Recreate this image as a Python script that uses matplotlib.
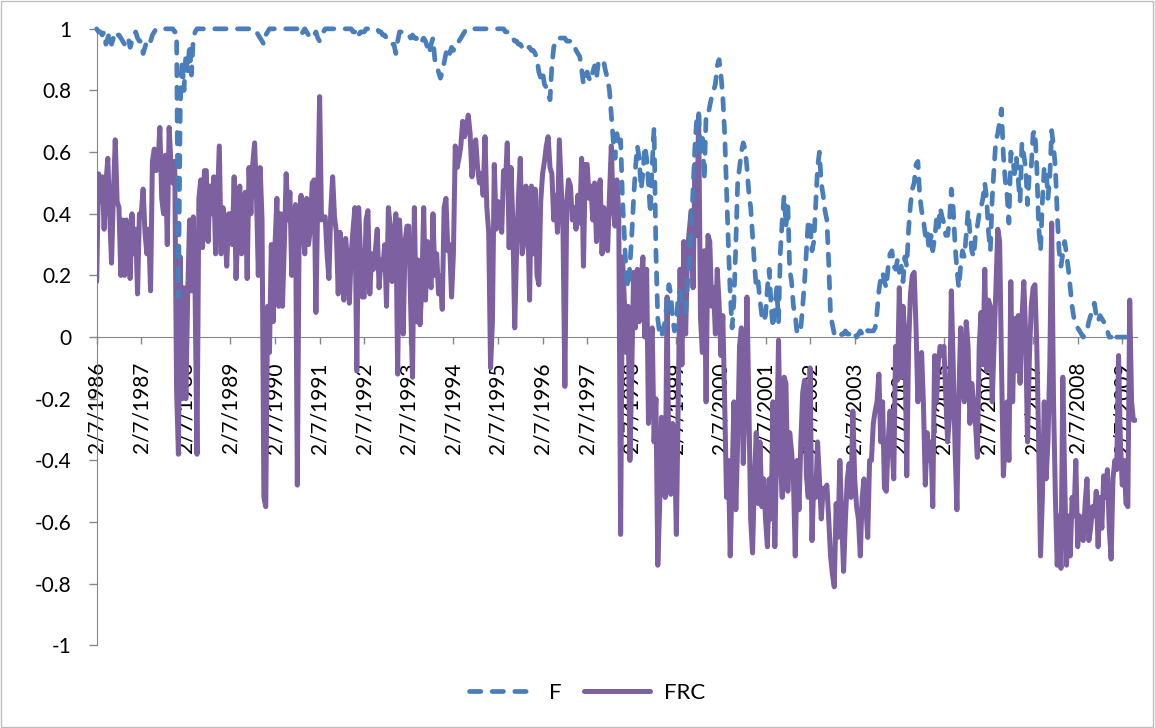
import matplotlib
matplotlib.use('Agg')
from matplotlib import pyplot as plt
from matplotlib.patches import Rectangle
import numpy as np

plt.rcParams['font.family'] = ['Lato', 'DejaVu Sans']

start_year = 1986
nan = float('nan')

# F: two readings per month, from Feb 1986
f_values = [
    # 1986
    1.00, 0.99, 0.99, 0.98, 0.99, 0.95, 0.97, 0.99, 0.95, 0.97, 0.99, 0.98,
    0.98, 0.97, 0.96, 0.95, 0.97, 0.97, 0.94, 0.96, 0.98, 0.99, 0.97, 0.96,
    # 1987
    0.96, 0.92, 0.94, 0.96, 0.97, 0.96, 0.98, 0.99, 1.00, 1.00, 1.00, 1.00,
    1.00, 1.00, 1.00, 1.00, 1.00, 1.00, 0.99, 0.99, 0.13, 0.75, 0.90, 0.80,
    # 1988
    0.92, 0.86, 0.95, 0.85, 0.97, 0.99, 1.00, 1.00, 1.00, 1.00, 1.00, 1.00,
    1.00, 1.00, 1.00, 1.00, 1.00, 1.00, 1.00, 1.00, 1.00, 1.00, 1.00, 1.00,
    # 1989
    1.00, 1.00, 1.00, 1.00, 1.00, 1.00, 1.00, 1.00, 1.00, 1.00, 1.00, 1.00,
    1.00, 1.00, 0.99, 0.98, 0.97, 0.96, 0.95, 0.98, 0.99, 1.00, 1.00, 1.00,
    # 1990
    1.00, 1.00, 1.00, 1.00, 1.00, 1.00, 1.00, 1.00, 1.00, 1.00, 1.00, 1.00,
    1.00, 1.00, 0.98, 0.99, 1.00, 0.99, 0.98, 0.99, 0.99, 0.98, 0.99, 0.97,
    # 1991
    0.96, 0.98, 0.99, 1.00, 1.00, 1.00, 1.00, 1.00, 1.00, 1.00, 1.00, 1.00,
    1.00, 1.00, 1.00, 1.00, 1.00, 1.00, 0.99, 0.99, 0.97, 0.98, 0.99, 0.99,
    # 1992
    0.99, 1.00, 1.00, 1.00, 1.00, 1.00, 1.00, 1.00, 0.99, 0.99, 0.98, 0.98,
    0.97, 0.96, 0.96, 0.95, 0.95, 0.92, 0.96, 0.99, 0.99, 0.99, 0.98, 0.98,
    # 1993
    0.98, 0.97, 0.98, 0.97, 0.97, 0.96, 0.95, 0.96, 0.97, 0.96, 0.94, 0.92,
    0.95, 0.97, 0.90, 0.88, 0.86, 0.84, 0.86, 0.89, 0.92, 0.94, 0.92, 0.94,
    # 1994
    0.93, 0.94, 0.96, 0.96, 0.97, 0.98, 0.99, 1.00, 1.00, 1.00, 1.00, 1.00,
    1.00, 1.00, 1.00, 1.00, 1.00, 1.00, 1.00, 1.00, 1.00, 1.00, 1.00, 1.00,
    # 1995
    1.00, 1.00, 1.00, 1.00, 0.99, 0.99, 0.99, 0.98, 0.97, 0.96, 0.96, 0.95,
    0.95, 0.94, 0.94, 0.93, 0.94, 0.94, 0.93, 0.93, 0.92, 0.90, 0.86, 0.84,
    # 1996
    0.86, 0.82, 0.81, 0.80, 0.77, 0.88, 0.94, 0.96, 0.97, 0.97, 0.97, 0.97,
    0.97, 0.96, 0.96, 0.96, 0.95, 0.95, 0.93, 0.92, 0.91, 0.87, 0.82, 0.85,
    # 1997
    0.86, 0.84, 0.83, 0.86, 0.88, 0.84, 0.89, 0.90, 0.90, 0.89, 0.86, 0.84,
    0.80, 0.72, 0.64, 0.58, 0.66, 0.62, 0.64, 0.45, 0.33, 0.20, 0.16, 0.23,
    # 1998
    0.33, 0.45, 0.55, 0.62, 0.58, 0.48, 0.53, 0.62, 0.58, 0.50, 0.40, 0.56,
    0.68, 0.28, 0.06, 0.01, 0.00, 0.03, 0.05, 0.12, 0.17, 0.14, 0.06, 0.02,
    # 1999
    0.04, 0.14, 0.15, 0.11, 0.10, 0.08, 0.17, 0.25, 0.35, 0.48, 0.62, 0.71,
    0.73, 0.59, 0.66, 0.51, 0.72, 0.72, 0.75, 0.78, 0.80, 0.82, 0.88, 0.90,
    # 2000
    0.85, 0.78, 0.66, 0.48, 0.30, 0.14, 0.03, 0.12, 0.30, 0.50, 0.55, 0.60,
    0.63, 0.61, 0.55, 0.47, 0.42, 0.33, 0.24, 0.16, 0.18, 0.12, 0.07, 0.05,
    # 2001
    0.07, 0.16, 0.22, 0.10, 0.03, 0.10, 0.16, 0.05, 0.28, 0.38, 0.46, 0.36,
    0.43, 0.22, 0.18, 0.10, 0.07, 0.01, 0.02, 0.03, 0.10, 0.18, 0.28, 0.38,
    # 2002
    0.37, 0.28, 0.31, 0.43, 0.55, 0.60, 0.50, 0.46, 0.41, 0.38, 0.24, 0.07,
    0.04, 0.01, 0.01, 0.00, 0.00, 0.01, 0.01, 0.02, 0.01, 0.01, 0.02, 0.01,
    # 2003
    0.01, 0.00, 0.01, 0.02, 0.01, 0.02, 0.03, 0.02, 0.02, 0.02, 0.02, 0.03,
    0.08, 0.15, 0.19, 0.21, 0.18, 0.16, 0.23, 0.27, 0.28, 0.23, 0.22, 0.25,
    # 2004
    0.21, 0.23, 0.18, 0.26, 0.23, 0.35, 0.43, 0.48, 0.50, 0.56, 0.57, 0.46,
    0.41, 0.38, 0.33, 0.35, 0.28, 0.33, 0.28, 0.32, 0.38, 0.35, 0.42, 0.39,
    # 2005
    0.37, 0.33, 0.33, 0.38, 0.48, 0.42, 0.30, 0.22, 0.16, 0.23, 0.28, 0.26,
    0.33, 0.41, 0.34, 0.28, 0.26, 0.33, 0.36, 0.40, 0.42, 0.45, 0.50, 0.45,
    # 2006
    0.34, 0.28, 0.45, 0.55, 0.64, 0.66, 0.70, 0.74, 0.59, 0.51, 0.46, 0.37,
    0.60, 0.58, 0.53, 0.58, 0.51, 0.44, 0.63, 0.59, 0.55, 0.43, 0.53, 0.55,
    # 2007
    0.66, 0.67, 0.55, 0.36, 0.28, 0.44, 0.55, 0.55, 0.45, 0.52, 0.67, 0.62,
    0.55, 0.40, 0.28, 0.23, 0.27, 0.31, 0.27, 0.22, 0.16, 0.10, 0.06, 0.05,
    # 2008
    0.03, 0.02, 0.01, 0.00, 0.01, 0.02, 0.05, 0.07, 0.09, 0.11, 0.07, 0.05,
    0.07, 0.06, 0.05, 0.03, 0.02, 0.00, 0.00, nan, nan, 0.00, 0.00, 0.00,
    # 2009
    0.00, 0.00, 0.00,
]

# FRC: two readings per month, from Feb 1986
frc_values = [
    # 1986
    0.18, 0.53, 0.44, 0.52, 0.35, 0.50, 0.58, 0.40, 0.24, 0.46, 0.64, 0.44,
    0.42, 0.20, 0.38, 0.20, 0.38, 0.30, 0.19, 0.40, 0.27, 0.35, 0.14, 0.40,
    # 1987
    0.40, 0.48, 0.34, 0.27, 0.35, 0.15, 0.57, 0.61, 0.54, 0.56, 0.68, 0.45,
    0.40, 0.59, 0.30, 0.68, 0.56, 0.50, 0.57, -0.17, -0.38, 0.26, -0.20, 0.16,
    # 1988
    -0.20, 0.14, 0.38, 0.15, 0.39, 0.13, -0.38, 0.45, 0.51, 0.29, 0.54, 0.54,
    0.31, 0.49, 0.40, 0.52, 0.27, 0.45, 0.62, 0.27, 0.42, 0.35, 0.23, 0.40,
    # 1989
    0.40, 0.30, 0.52, 0.19, 0.35, 0.49, 0.27, 0.42, 0.47, 0.19, 0.55, 0.40,
    0.56, 0.63, 0.46, 0.20, 0.55, 0.38, -0.52, -0.55, 0.10, -0.05, 0.30, 0.05,
    # 1990
    0.30, 0.45, 0.10, 0.40, 0.10, 0.30, 0.53, 0.38, 0.47, 0.20, 0.35, 0.43,
    -0.48, 0.38, 0.46, 0.35, 0.27, 0.45, 0.30, 0.35, 0.50, 0.51, 0.08, 0.45,
    # 1991
    0.78, 0.38, 0.39, 0.39, 0.27, 0.19, 0.41, 0.52, 0.39, 0.34, 0.14, 0.34,
    0.22, 0.12, 0.32, 0.25, 0.11, 0.27, 0.35, 0.42, -0.11, 0.42, 0.27, 0.13,
    # 1992
    0.13, 0.38, 0.41, 0.14, 0.27, 0.22, 0.28, 0.35, 0.16, 0.25, 0.22, 0.30,
    0.10, 0.42, 0.36, 0.18, 0.30, 0.40, -0.12, 0.38, 0.25, 0.01, 0.31, 0.36,
    # 1993
    0.36, 0.10, -0.13, 0.42, 0.05, 0.25, 0.04, 0.16, 0.42, 0.12, 0.31, 0.20,
    0.16, 0.40, 0.20, 0.27, 0.14, 0.20, 0.09, 0.42, 0.45, 0.28, 0.30, 0.13,
    # 1994
    0.27, 0.62, 0.55, 0.58, 0.62, 0.70, 0.65, 0.68, 0.72, 0.66, 0.52, 0.60,
    0.64, 0.55, 0.50, 0.53, 0.46, 0.65, 0.42, 0.34, -0.10, 0.05, 0.56, 0.35,
    # 1995
    0.44, 0.38, 0.34, 0.54, 0.50, 0.63, 0.29, 0.55, 0.37, 0.03, 0.28, 0.45,
    0.58, 0.27, 0.31, 0.49, 0.40, 0.12, 0.49, 0.27, 0.48, 0.20, 0.17, 0.44,
    # 1996
    0.53, 0.57, 0.62, 0.65, 0.55, 0.53, 0.38, 0.46, 0.34, 0.64, 0.49, 0.34,
    -0.16, 0.44, 0.51, 0.49, 0.38, 0.42, 0.35, 0.46, 0.37, 0.58, 0.23, 0.56,
    # 1997
    0.56, 0.45, 0.49, 0.38, 0.50, 0.31, 0.44, 0.51, 0.27, 0.42, 0.35, 0.28,
    0.46, 0.62, 0.42, 0.36, 0.51, 0.40, -0.64, 0.26, 0.12, -0.05, 0.10, -0.40,
    # 1998
    -0.11, 0.21, 0.03, 0.22, 0.05, 0.18, 0.26, 0.00, 0.22, -0.28, -0.04, 0.03,
    -0.34, -0.20, -0.74, -0.55, -0.26, -0.40, -0.52, 0.13, -0.44, -0.51, -0.28, -0.34,
    # 1999
    -0.64, -0.21, 0.22, -0.09, 0.31, 0.01, 0.28, 0.35, 0.41, 0.16, 0.56, 0.33,
    0.72, 0.06, -0.05, 0.28, -0.21, 0.33, 0.31, 0.10, 0.16, 0.01, 0.22, 0.11,
    # 2000
    -0.06, 0.07, -0.21, -0.52, -0.40, -0.71, -0.46, -0.21, -0.56, -0.34, -0.03, 0.03,
    -0.41, -0.21, 0.13, -0.21, -0.59, -0.70, -0.46, -0.31, -0.54, -0.34, -0.55, -0.46,
    # 2001
    -0.59, -0.68, -0.46, -0.59, -0.21, -0.68, -0.34, -0.01, -0.40, -0.52, -0.13, -0.15,
    -0.50, -0.31, -0.37, -0.46, -0.71, -0.40, -0.56, -0.34, -0.18, -0.14, -0.45, -0.52,
    # 2002
    -0.10, -0.66, -0.46, -0.52, -0.34, -0.46, -0.59, -0.49, -0.51, -0.48, -0.59, -0.71,
    -0.77, -0.81, -0.54, -0.65, -0.40, -0.59, -0.76, -0.59, -0.46, -0.41, -0.52, -0.24,
    # 2003
    -0.46, -0.55, -0.59, -0.71, -0.52, -0.46, -0.55, -0.65, -0.40, -0.40, -0.28, -0.24,
    -0.21, -0.12, -0.34, -0.21, -0.49, -0.50, -0.34, -0.24, -0.34, -0.46, -0.03, -0.14,
    # 2004
    0.16, -0.13, 0.10, 0.01, -0.45, -0.03, 0.14, 0.20, 0.21, 0.03, -0.21, -0.09,
    -0.05, -0.22, -0.48, -0.31, -0.40, -0.34, -0.55, -0.06, -0.21, -0.08, -0.03, -0.06,
    # 2005
    -0.03, -0.19, -0.34, -0.26, 0.15, -0.09, -0.36, -0.56, -0.21, 0.03, -0.15, -0.21,
    0.05, -0.03, -0.28, -0.15, -0.21, -0.28, -0.39, -0.03, 0.08, -0.09, 0.22, -0.11,
    # 2006
    0.12, 0.10, -0.21, -0.03, 0.16, 0.35, 0.31, -0.09, -0.45, -0.34, -0.21, -0.40,
    0.18, -0.21, 0.06, -0.11, 0.07, -0.15, 0.06, 0.18, 0.01, -0.34, -0.07, 0.10,
    # 2007
    0.16, 0.17, -0.03, -0.34, -0.71, -0.52, -0.21, -0.46, -0.34, -0.09, 0.37, -0.21,
    -0.52, -0.74, -0.58, -0.75, -0.13, -0.46, -0.74, -0.58, -0.71, -0.52, -0.58, -0.40,
    # 2008
    -0.68, -0.58, -0.65, -0.66, -0.54, -0.46, -0.66, -0.62, -0.55, -0.58, -0.50, -0.68,
    -0.52, -0.62, -0.45, -0.52, -0.43, -0.62, -0.72, -0.46, -0.40, -0.43, -0.06, -0.34,
    # 2009
    -0.48, -0.40, -0.54, -0.55, 0.12, -0.21, -0.27, -0.27,
]

tick_years = list(range(1986, 2010))
tick_labels = ['2/7/' + str(y) for y in tick_years]
y_ticks = [-1, -0.8, -0.6, -0.4, -0.2, 0, 0.2, 0.4, 0.6, 0.8, 1]
y_labels = ['-1', '-0.8', '-0.6', '-0.4', '-0.2', '0', '0.2', '0.4', '0.6', '0.8', '1']

x_f = start_year + np.arange(len(f_values)) / 24.0
x_frc = start_year + np.arange(len(frc_values)) / 24.0

fig = plt.figure(figsize=(11.55, 7.28), dpi=100)
ax = fig.add_axes([0.0837, 0.1135, 0.9007, 0.8469])

line_frc, = ax.plot(x_frc, frc_values, color='#7D60A0', lw=3.6,
                    solid_joinstyle='round', solid_capstyle='round', zorder=3)
line_f, = ax.plot(x_f, f_values, color='#4A7EBB', lw=3.4, ls=(0, (2.4, 2.4)),
                  dash_capstyle='round', dash_joinstyle='round', zorder=4, clip_on=False)

ax.set_xlim(1986, 2009.33)
ax.set_ylim(-1, 1)

for s in ['top', 'right']:
    ax.spines[s].set_visible(False)
ax.spines['left'].set_color('#868686')
ax.spines['bottom'].set_color('#868686')
ax.spines['bottom'].set_position(('data', 0))

ax.set_xticks(tick_years)
ax.set_xticklabels(tick_labels, rotation=90)
ax.set_yticks(y_ticks)
ax.set_yticklabels(y_labels)
ax.tick_params(axis='x', length=5, width=1, color='#868686', pad=13, labelsize=15)
ax.tick_params(axis='y', length=6, width=1, color='#868686', pad=12, labelsize=15)

fig.legend([line_f, line_frc], ['F', 'FRC'], loc='center',
           bbox_to_anchor=(587 / 1155, 1 - 693 / 728), ncol=2, frameon=False,
           fontsize=16, handlelength=3.0, handletextpad=0.6, columnspacing=1.0)

# chart border
fig.patches.append(Rectangle((0.0005, 0.001), 0.998, 0.997, transform=fig.transFigure,
                             fill=False, edgecolor='#BFBFBF', lw=1))

fig.savefig('out.png', dpi=100)
